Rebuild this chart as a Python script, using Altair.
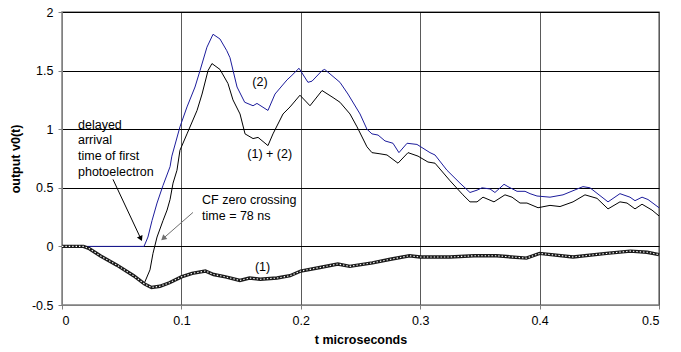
import altair as alt
import pandas as pd

# ---- data ----
# (1): dotted curve
t1 = [0, 0.018, 0.023, 0.032, 0.046, 0.06, 0.069, 0.075, 0.082, 0.09, 0.1, 0.109, 0.12, 0.127,
      0.137, 0.149, 0.157, 0.166, 0.18, 0.191, 0.2, 0.216, 0.231, 0.241, 0.26, 0.275, 0.291, 0.3,
      0.325, 0.345, 0.364, 0.389, 0.4, 0.428, 0.456, 0.476, 0.49, 0.5]
v1 = [0, 0, -0.02, -0.08, -0.16, -0.25, -0.32, -0.35, -0.34, -0.31, -0.26, -0.23, -0.21, -0.24,
      -0.26, -0.29, -0.27, -0.28, -0.27, -0.25, -0.21, -0.18, -0.15, -0.17, -0.14, -0.11, -0.08, -0.09,
      -0.09, -0.08, -0.08, -0.1, -0.06, -0.09, -0.06, -0.04, -0.05, -0.07]

# (2): blue curve
t2 = [0, 0.0687, 0.072, 0.0754, 0.0796, 0.0846, 0.0905, 0.092, 0.0988, 0.1047, 0.1114, 0.1156,
      0.1214, 0.1265, 0.1323, 0.138, 0.1407, 0.1466, 0.153, 0.16, 0.1633, 0.1725, 0.1784, 0.1884,
      0.1926, 0.1985, 0.206, 0.2094, 0.2178, 0.22, 0.227, 0.2328, 0.2395, 0.2496, 0.2554, 0.2596,
      0.2647, 0.2705, 0.2772, 0.2822, 0.289, 0.2973, 0.3082, 0.3124, 0.3224, 0.3333, 0.3417, 0.3476,
      0.3518, 0.3585, 0.3626, 0.3702, 0.3735, 0.3811, 0.3878, 0.392, 0.3978, 0.4087, 0.4196, 0.4363,
      0.4422, 0.4573, 0.4673, 0.4757, 0.4799, 0.4858, 0.4908, 0.5]
v2 = [0, 0, 0.08, 0.22, 0.37, 0.52, 0.68, 0.77, 1.02, 1.19, 1.36, 1.5,
      1.7, 1.81, 1.77, 1.67, 1.61, 1.36, 1.23, 1.2, 1.22, 1.16, 1.3, 1.42,
      1.46, 1.52, 1.4, 1.41, 1.5, 1.51, 1.45, 1.4, 1.3, 1.13, 1.0, 0.96,
      0.95, 0.9, 0.88, 0.8, 0.88, 0.87, 0.8, 0.78, 0.65, 0.54, 0.46, 0.48,
      0.5, 0.49, 0.46, 0.53, 0.51, 0.47, 0.47, 0.45, 0.43, 0.42, 0.44, 0.51,
      0.5, 0.38, 0.45, 0.42, 0.39, 0.42, 0.4, 0.33]

# (1) + (2): black curve
t12 = [0.0687, 0.0737, 0.0762, 0.0796, 0.0846, 0.088, 0.0905, 0.093, 0.0963, 0.0988, 0.1047, 0.1131,
       0.1173, 0.1223, 0.1256, 0.1323, 0.139, 0.1432, 0.1491, 0.1533, 0.16, 0.1642, 0.1725, 0.1767,
       0.1851, 0.191, 0.1993, 0.2077, 0.2178, 0.227, 0.2328, 0.2412, 0.2471, 0.2554, 0.2596, 0.2663,
       0.2722, 0.2814, 0.2898, 0.2982, 0.3065, 0.3124, 0.325, 0.3358, 0.3417, 0.3476, 0.3526, 0.3618,
       0.371, 0.3769, 0.3836, 0.3894, 0.3987, 0.4087, 0.4171, 0.428, 0.438, 0.4481, 0.4573, 0.4673,
       0.4732, 0.4799, 0.4858, 0.4941, 0.5]
v12 = [-0.32, -0.2, -0.06, 0.08, 0.22, 0.31, 0.4, 0.54, 0.65, 0.82, 0.96, 1.16,
       1.3, 1.5, 1.56, 1.51, 1.39, 1.25, 1.13, 0.96, 0.92, 0.93, 0.86, 0.96,
       1.13, 1.19, 1.29, 1.2, 1.33, 1.27, 1.23, 1.13, 1.02, 0.85, 0.8, 0.79,
       0.78, 0.71, 0.8, 0.77, 0.72, 0.71, 0.56, 0.44, 0.38, 0.38, 0.42, 0.38,
       0.44, 0.42, 0.37, 0.37, 0.33, 0.35, 0.34, 0.38, 0.44, 0.41, 0.32, 0.38,
       0.37, 0.32, 0.36, 0.31, 0.26]

x_ticks = [0, 0.1, 0.2, 0.3, 0.4, 0.5]
y_ticks = [-0.5, 0, 0.5, 1, 1.5, 2]

# annotations (data coordinates)
label_text = ["(2)", "(1) + (2)", "(1)"]
label_t = [0.1658, 0.174, 0.168]
label_v = [1.40, 0.79, -0.18]

note1_lines = ["delayed", "arrival", "time of first", "photoelectron"]
note1_t = 0.0134
note1_v = [1.032, 0.904, 0.768, 0.631]

note2_lines = ["CF zero crossing", "time = 78 ns"]
note2_t = 0.1173
note2_v = [0.392, 0.256]

arrow_t = [0.0427, 0.1097]
arrow_v = [0.572, 0.29]
arrow_t2 = [0.0660, 0.0848]
arrow_v2 = [0.066, 0.068]
arrow_angle = [155, 229]
arrow_color = ["#000000", "#707070"]

FONT = "Liberation Sans"
FS = 12.5

df1 = pd.DataFrame({"t": t1, "v": v1})
df2 = pd.DataFrame({"t": t2, "v": v2})
df12 = pd.DataFrame({"t": t12, "v": v12})
dlab = pd.DataFrame({"text": label_text, "t": label_t, "v": label_v})
dn1 = pd.DataFrame({"text": note1_lines, "t": [note1_t] * len(note1_lines), "v": note1_v})
dn2 = pd.DataFrame({"text": note2_lines, "t": [note2_t] * len(note2_lines), "v": note2_v})
darr = pd.DataFrame({"t": arrow_t, "v": arrow_v, "t2": arrow_t2, "v2": arrow_v2,
                     "angle": arrow_angle, "color": arrow_color})

xs = alt.Scale(domain=[0, 0.5], nice=False, zero=False)
ys = alt.Scale(domain=[-0.5, 2], nice=False)

x_axis = alt.Axis(values=x_ticks, labelExpr="datum.value", title="t microseconds",
                  grid=True, gridColor="#5a5a5a", tickSize=4, labelPadding=5, titlePadding=7)
y_axis = alt.Axis(values=y_ticks, labelExpr="datum.value", title="output v0(t)",
                  grid=True, gridColor="#000000", tickSize=4, labelPadding=5, titlePadding=9)

blue = alt.Chart(df2).mark_line(color="#1c1c9c", strokeWidth=1).encode(
    x=alt.X("t:Q", scale=xs, axis=x_axis),
    y=alt.Y("v:Q", scale=ys, axis=y_axis),
)
black = alt.Chart(df12).mark_line(color="#000000", strokeWidth=1).encode(
    x=alt.X("t:Q", scale=xs), y=alt.Y("v:Q", scale=ys))
s1_dark = alt.Chart(df1).mark_line(color="#1a1a1a", strokeWidth=3.4).encode(
    x=alt.X("t:Q", scale=xs), y=alt.Y("v:Q", scale=ys))
s1_beads = alt.Chart(df1).mark_line(color="#ffffff", strokeWidth=1.1, strokeDash=[1.4, 2.0]).encode(
    x=alt.X("t:Q", scale=xs), y=alt.Y("v:Q", scale=ys))

rules = alt.Chart(darr).mark_rule(strokeWidth=1).encode(
    x="t:Q", y="v:Q", x2="t2:Q", y2="v2:Q",
    color=alt.Color("color:N", scale=None))
heads = alt.Chart(darr).mark_point(shape="triangle-up", filled=True, size=38, opacity=1).encode(
    x="t2:Q", y="v2:Q", angle=alt.Angle("angle:Q", scale=None),
    color=alt.Color("color:N", scale=None))

labels = alt.Chart(dlab).mark_text(font=FONT, fontSize=FS, color="#000000",
                                   align="center", baseline="middle").encode(
    x="t:Q", y="v:Q", text="text:N")
notes1 = alt.Chart(dn1).mark_text(font=FONT, fontSize=FS, color="#000000",
                                  align="left", baseline="middle").encode(
    x="t:Q", y="v:Q", text="text:N")
notes2 = alt.Chart(dn2).mark_text(font=FONT, fontSize=FS, color="#000000",
                                  align="left", baseline="middle").encode(
    x="t:Q", y="v:Q", text="text:N")

chart = alt.layer(blue, black, s1_dark, s1_beads, rules, heads, labels, notes1, notes2).properties(
    width=597, height=293,
    padding={"left": 62, "top": 12, "right": 22, "bottom": 47},
    autosize=alt.AutoSizeParams(type="none"),
    background="#ffffff",
).configure_view(
    stroke="#808080", strokeWidth=1.5
).configure_axis(
    labelFont=FONT, labelFontSize=FS, labelColor="#000000",
    titleFont=FONT, titleFontSize=FS, titleFontWeight="bold", titleColor="#000000",
    domainColor="#808080", tickColor="#808080", gridOpacity=1, gridWidth=1,
)

chart.save("out.html", embed_options={"renderer": "svg", "actions": False})
